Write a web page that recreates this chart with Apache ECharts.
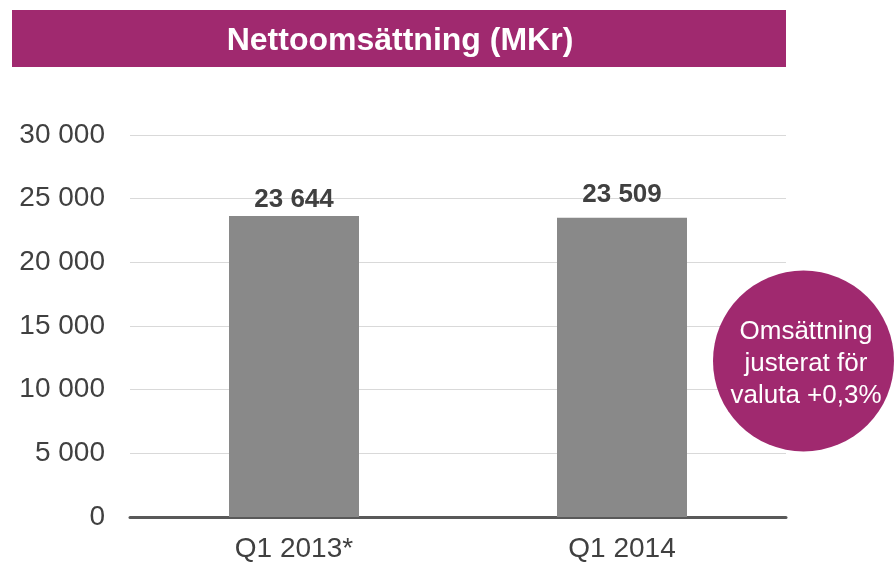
<!DOCTYPE html>
<html>
<head>
<meta charset="utf-8">
<script src="https://cdn.jsdelivr.net/npm/echarts@6/dist/echarts.min.js"></script>
<style>html,body{margin:0;padding:0;background:#fff;}#c{width:894px;height:563px;}</style>
</head>
<body>
<div id="c"></div>
<script>
var categories = ['Q1 2013*', 'Q1 2014'];
var values = [23644, 23509];
var yTicks = [0, 5000, 10000, 15000, 20000, 25000, 30000];
var titleText = 'Nettoomsättning (MKr)';
var noteText = 'Omsättning\njusterat för\nvaluta +0,3%';

function fmt(v) { return String(v).replace(/\B(?=(\d{3})+(?!\d))/g, ' '); }

var chart = echarts.init(document.getElementById('c'));
var purple = '#A0296F';
var FONT = 'Liberation Sans';
chart.setOption({
  animation: false,
  grid: { left: 130, right: 108, top: 135, bottom: 46 },
  xAxis: {
    type: 'category', data: categories,
    axisTick: { show: false },
    axisLine: { lineStyle: { color: '#595959', width: 3 } },
    axisLabel: { color: '#404040', fontSize: 28, fontFamily: FONT, margin: 18 }
  },
  yAxis: {
    type: 'value', min: yTicks[0], max: yTicks[yTicks.length - 1], interval: yTicks[1] - yTicks[0],
    axisLine: { show: false }, axisTick: { show: false },
    splitLine: { lineStyle: { color: '#d9d9d9', width: 1 } },
    axisLabel: { color: '#404040', fontSize: 28, fontFamily: FONT, margin: 25, formatter: fmt }
  },
  series: [{
    type: 'bar',
    data: values.map(function (v, i) {
      return { value: v, label: { distance: i === 0 ? 3 : 10 } };
    }),
    barWidth: 130,
    itemStyle: { color: '#898989' },
    label: {
      show: true, position: 'top', color: '#404040', fontSize: 26, fontWeight: 'bold',
      fontFamily: FONT, formatter: function (p) { return fmt(p.value); }
    }
  }],
  graphic: [
    { type: 'rect', left: 12, top: 10, shape: { width: 774, height: 57 }, style: { fill: purple }, z: 10 },
    { type: 'text', x: 400, y: 41, style: { text: titleText, fill: '#fff', fontFamily: FONT, fontSize: 32, fontWeight: 'bold', textAlign: 'center', textVerticalAlign: 'middle' }, z: 11 },
    { type: 'circle', shape: { cx: 803.5, cy: 361, r: 90.5 }, style: { fill: purple }, z: 10 },
    { type: 'text', x: 806, y: 364, style: { text: noteText, fill: '#fff', fontFamily: FONT, fontSize: 26, lineHeight: 32, textAlign: 'center', textVerticalAlign: 'middle' }, z: 11 }
  ]
});
</script>
</body>
</html>
